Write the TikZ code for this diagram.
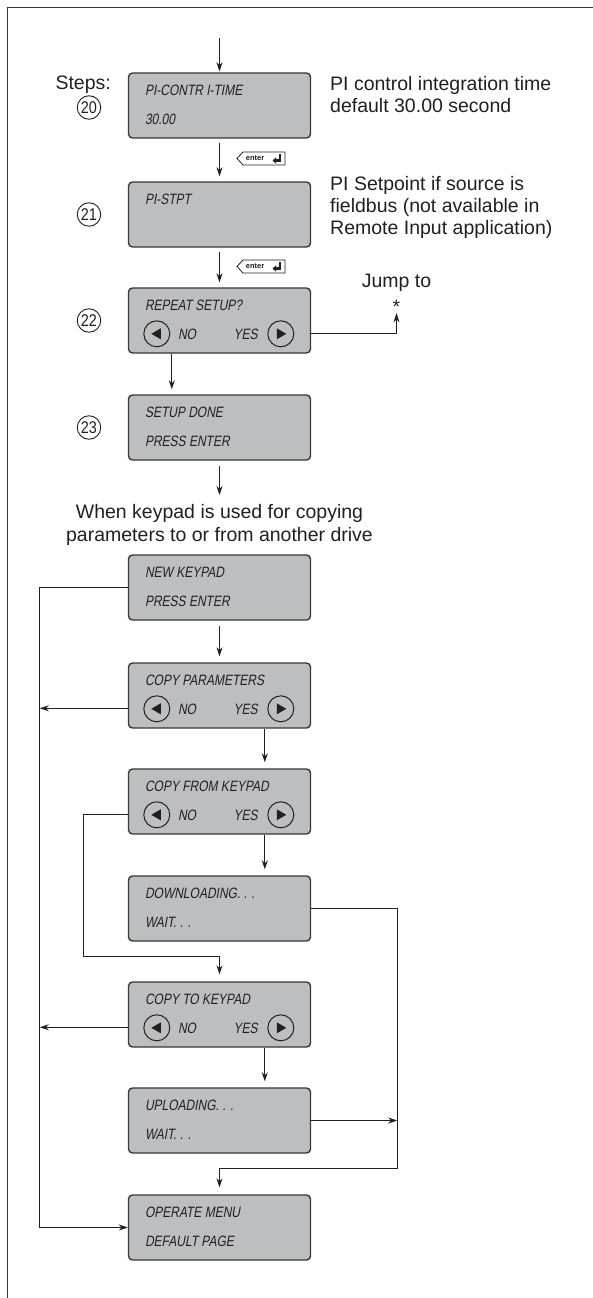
\documentclass[tikz,border=0pt]{standalone}
\usepackage{fontspec}
\setmainfont{Liberation Sans}
\newfontfamily\lcdfont[FakeStretch=0.8,FakeSlant=0.18]{Liberation Sans}
\newfontfamily\numfont[FakeStretch=0.85]{Liberation Sans}
\usetikzlibrary{arrows.meta,calc}
\definecolor{boxgray}{RGB}{189,190,192}
\definecolor{ink}{RGB}{35,31,32}
\definecolor{edge}{RGB}{55,55,55}
\newcommand\lcdtwo[3]{%
  \node[lcdtext] (#1l1) at ($(#1.north west)+(17,23)$) {#2};
  \node[lcdtext] (#1l2) at ($(#1.north west)+(17,52)$) {#3};}
\newcommand\lcdbtn[2]{%
  \node[lcdtext] (#1l1) at ($(#1.north west)+(17,23)$) {#2};
  \node[btn] (#1no) at ($(#1.north west)+(29,46.5)$) {};
  \fill[ink] ($(#1no.center)+(-5.5,0)$) -- ($(#1no.center)+(4,-5.5)$) -- ($(#1no.center)+(4,5.5)$) -- cycle;
  \node[lcdtext] (#1nol) at ($(#1.north west)+(50,52)$) {NO};
  \node[btn] (#1yes) at ($(#1.north west)+(153,46.5)$) {};
  \fill[ink] ($(#1yes.center)+(5.5,0)$) -- ($(#1yes.center)+(-4,-5.5)$) -- ($(#1yes.center)+(-4,5.5)$) -- cycle;
  \node[lcdtext,anchor=base east] (#1yesl) at ($(#1.north west)+(130,52)$) {YES};}
\newcommand\enterkey[2]{%
  \node[keytext] (#1) at ($(#2)+(18,0)$) {enter};
  \draw[keyline] ($(#2)+(0,0)$) -- ($(#2)+(6,-6.5)$) -- ($(#2)+(48,-6.5)$) -- ($(#2)+(48,6.5)$) -- ($(#2)+(6,6.5)$) -- cycle;
  \draw[line width=2.2pt,draw=ink,-{Triangle[length=3.5pt,width=6pt]}] ($(#2)+(43,-4.5)$) -- ($(#2)+(43,2)$) -- ($(#2)+(35.5,2)$);}
\begin{document}
\begin{tikzpicture}[x=1pt,y=-1pt,
  lcdbox/.style={rectangle,rounded corners=4pt,fill=boxgray,draw=edge,line width=1.4pt,minimum width=182pt,minimum height=65pt,inner sep=0},
  lcdtext/.style={anchor=base west,inner sep=0,font=\lcdfont\fontsize{15}{15}\selectfont,text=ink},
  btn/.style={circle,draw=ink,line width=1pt,minimum size=26pt,inner sep=0},
  body/.style={inner sep=0,font=\fontsize{19.5}{22}\selectfont,text=ink},
  stepnum/.style={circle,draw=ink,line width=0.9pt,minimum size=23.5pt,inner sep=0,font=\numfont\fontsize{17}{17}\selectfont,text=ink},
  arr/.style={draw=ink,line width=1.2pt,-{Stealth[length=9pt,width=6pt]}},
  keytext/.style={inner sep=0,font=\bfseries\fontsize{7.5}{7.5}\selectfont,text=ink},
  keyline/.style={draw=ink,line width=0.8pt},
  frame/.style={draw=edge,line width=1pt}]
\useasboundingbox (0,0) rectangle (593,1298);
\draw[frame] (7.5,1298) -- (7.5,7.5) -- (593,7.5);
% boxes
\node[lcdbox] (b20) at (219.5,105.5) {};
\node[lcdbox] (b21) at (219.5,214.5) {};
\node[lcdbox] (b22) at (219.5,320.5) {};
\node[lcdbox] (b23) at (219.5,427.5) {};
\node[lcdbox] (nk) at (219.5,587.5) {};
\node[lcdbox] (cp) at (219.5,695.5) {};
\node[lcdbox] (cf) at (219.5,801.5) {};
\node[lcdbox] (dl) at (219.5,908.5) {};
\node[lcdbox] (ct) at (219.5,1014.5) {};
\node[lcdbox] (ul) at (219.5,1120.5) {};
\node[lcdbox] (om) at (219.5,1227.5) {};
\lcdtwo{b20}{PI-CONTR I-TIME}{30.00}
\node[lcdtext] (b21l1) at ($(b21.north west)+(17,23)$) {PI-STPT};
\lcdbtn{b22}{REPEAT SETUP?}
\lcdtwo{b23}{SETUP DONE}{PRESS ENTER}
\lcdtwo{nk}{NEW KEYPAD}{PRESS ENTER}
\lcdbtn{cp}{COPY PARAMETERS}
\lcdbtn{cf}{COPY FROM KEYPAD}
\lcdtwo{dl}{DOWNLOADING. . .}{WAIT. . .}
\lcdbtn{ct}{COPY TO KEYPAD}
\lcdtwo{ul}{UPLOADING. . .}{WAIT. . .}
\lcdtwo{om}{OPERATE MENU}{DEFAULT PAGE}
% step labels
\node[body,anchor=base east] (steps) at (111,89) {Steps:};
\node[stepnum] (s20) at (89,107.5) {20};
\node[stepnum] (s21) at (89,214.5) {21};
\node[stepnum] (s22) at (89,320.5) {22};
\node[stepnum] (s23) at (89,427.5) {23};
% descriptions
\node[body,align=left,anchor=north west] (d20) at (330,76) {PI control integration time\\default 30.00 second};
\node[body,align=left,anchor=north west] (d21) at (330,176) {PI Setpoint if source is\\fieldbus (not available in\\Remote Input application)};
\node[body,anchor=base] (jump) at (396.5,287) {Jump to};
\node[body,anchor=base] (star) at (396.5,313) {*};
\node[body,align=center,anchor=north,font=\fontsize{19.5}{23}\selectfont] (copytxt) at (219.5,504) {When keypad is used for copying\\parameters to or from another drive};
% connectors
\coordinate (entry) at (219.5,38);
\draw[arr,shorten >=1pt] (entry) -- (b20.north);
\draw[arr,shorten <=4pt,shorten >=5pt] (b20.south) -- (b21.north);
\coordinate (k1) at (237,158.5);
\enterkey{e1}{k1}
\draw[arr,shorten <=4pt,shorten >=5pt] (b21.south) -- (b22.north);
\coordinate (k2) at (237,266.5);
\enterkey{e2}{k2}
\draw[arr] ($(b22.north east)+(0,46)$) -| (star.south);
\coordinate (b22out) at ($(b22.south west)+(44,0)$);
\draw[arr,shorten >=5pt] (b22out) -- (b22out |- b23.north);
\draw[arr,shorten <=5pt,shorten >=9pt] (b23.south) -- (copytxt.north);
\draw[arr,shorten <=5pt,shorten >=6pt] (nk.south) -- (cp.north);
\draw[arr] (nk.west) -- ++(-88,0) |- (om.west);
\draw[arr] ($(cp.north west)+(0,46)$) -- ++(-88,0);
\coordinate (cpyes) at ($(cp.south west)+(137,0)$);
\draw[arr,shorten >=6pt] (cpyes) -- (cpyes |- cf.north);
\draw[arr,shorten >=7pt] ($(cf.north west)+(0,46)$) -- ++(-44,0) -- ++(0,142) -| (ct.north);
\coordinate (cfyes) at ($(cf.south west)+(137,0)$);
\draw[arr,shorten >=6pt] (cfyes) -- (cfyes |- dl.north);
\draw[arr,shorten >=7pt] (dl.east) -- ++(86,0) -- ++(0,260) -| (om.north);
\draw[arr] ($(ct.north west)+(0,46)$) -- ++(-88,0);
\coordinate (ctyes) at ($(ct.south west)+(137,0)$);
\draw[arr,shorten >=6pt] (ctyes) -- (ctyes |- ul.north);
\draw[arr] (ul.east) -- ++(86,0);
\end{tikzpicture}
\end{document}
